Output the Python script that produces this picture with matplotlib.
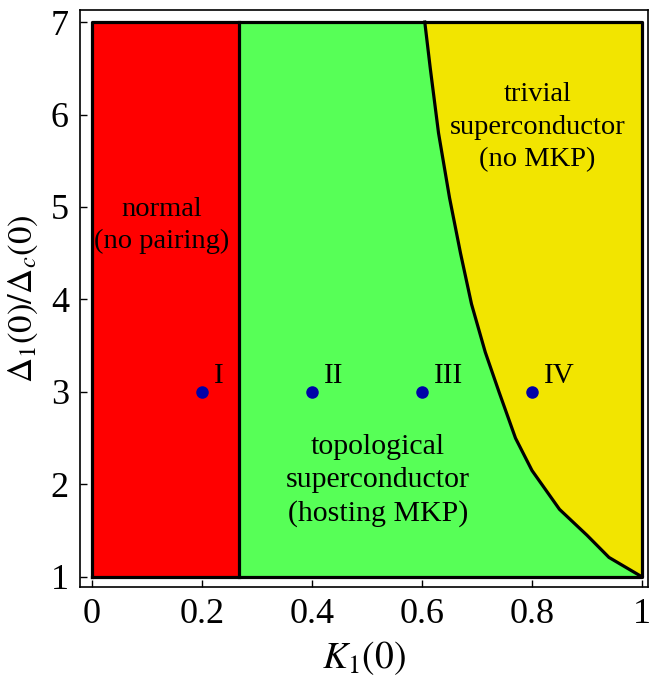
import numpy as np
import matplotlib.pyplot as plt

plt.rcParams['font.family'] = ['Liberation Serif', 'DejaVu Serif']
plt.rcParams['mathtext.fontset'] = 'stix'

# phase boundaries
k_normal = 0.268
curve_k = [0.605, 0.615, 0.63, 0.65, 0.67, 0.69, 0.715, 0.74, 0.77, 0.80, 0.85, 0.90, 0.94, 1.0]
curve_d = [7.0, 6.5, 5.8, 5.1, 4.5, 3.95, 3.43, 3.0, 2.5, 2.15, 1.73, 1.45, 1.21, 1.0]

point_k = [0.2, 0.4, 0.6, 0.8]
point_d = [3.0, 3.0, 3.0, 3.0]
point_labels = ['I', 'II', 'III', 'IV']

x_ticks = [0, 0.2, 0.4, 0.6, 0.8, 1]
x_tick_labels = ['0', '0.2', '0.4', '0.6', '0.8', '1']
y_ticks = [1, 2, 3, 4, 5, 6, 7]

fig = plt.figure(figsize=(6.52, 6.86), dpi=100)
ax = fig.add_axes([0.1227, 0.1443, 0.8712, 0.8411])

red = '#ff0000'
green = '#57ff57'
yellow = '#f2e500'

# regions
ax.fill([0, k_normal, k_normal, 0], [1, 1, 7, 7], color=red, lw=0)
gk = [k_normal] + curve_k + [k_normal]
gd = [7] + curve_d + [1]
ax.fill(gk, gd, color=green, lw=0)
yk = curve_k + [1.0]
yd = curve_d + [7.0]
ax.fill(yk, yd, color=yellow, lw=0)

# boundaries
ax.plot([0, 1, 1, 0, 0], [1, 1, 7, 7, 1], color='black', lw=2.3)
ax.plot([k_normal, k_normal], [1, 7], color='black', lw=2.3)
ax.plot(curve_k, curve_d, color='black', lw=2.3)

ax.plot(point_k, point_d, 'o', color='#0000a8', ms=8, zorder=5)
for k, d, lab in zip(point_k, point_d, point_labels):
    ax.text(k + 0.022, d + 0.17, lab, fontsize=21, ha='left', va='center')

ax.text(0.127, 4.8, 'normal\n(no pairing)', fontsize=20.5, ha='center', va='center',
        linespacing=1.4)
ax.text(0.81, 5.86, 'trivial\nsuperconductor\n(no MKP)', fontsize=20.5, ha='center',
        va='center', linespacing=1.4)
ax.text(0.52, 2.04, 'topological\nsuperconductor\n(hosting MKP)', fontsize=21.5,
        ha='center', va='center', linespacing=1.35)

ax.set_xlim(-0.022, 1.011)
ax.set_ylim(0.89, 7.13)
ax.set_xticks(x_ticks)
ax.set_xticklabels(x_tick_labels)
ax.set_yticks(y_ticks)
ax.tick_params(direction='in', length=5, width=1, labelsize=26, pad=8)
for s in ax.spines.values():
    s.set_linewidth(1.2)

ax.set_xlabel(r'$K_1(0)$', fontsize=27, labelpad=6)
ax.set_ylabel(r'$\Delta_1(0)/\Delta_c(0)$', fontsize=25, labelpad=8)

fig.savefig('out.png', dpi=100)
